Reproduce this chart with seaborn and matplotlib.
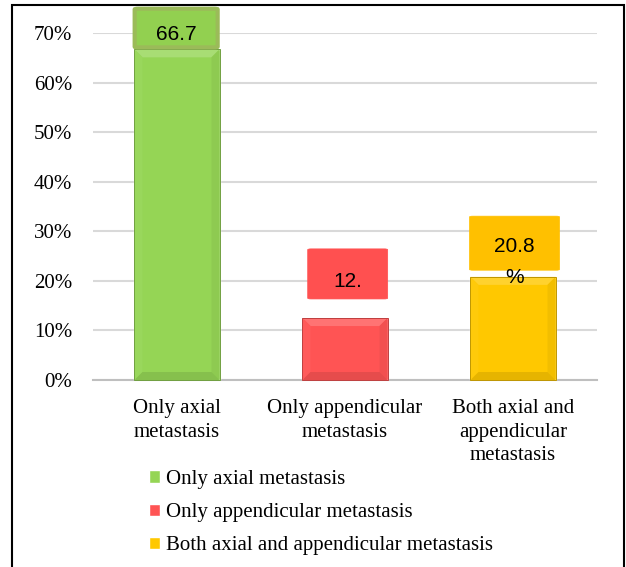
import matplotlib
matplotlib.use("Agg")
import matplotlib.pyplot as plt
import matplotlib.patches as mpatches
from matplotlib.transforms import IdentityTransform
import seaborn as sns
import pandas as pd

# Data
groups = ["Only axial metastasis", "Only appendicular metastasis",
          "Both axial and appendicular metastasis"]
tick_labels = ["Only axial\nmetastasis", "Only appendicular\nmetastasis",
               "Both axial and\nappendicular\nmetastasis"]
percent = [66.7, 12.5, 20.8]
value_labels = ["66.7", "12.", "20.8\n%"]
bar_colors = ["#95D555", "#FF5454", "#FFC800"]
box_colors = ["#92D050", "#FF5050", "#FFC000"]
box_edges = ["#9BBB59", "#FF5050", "#FFC000"]

df = pd.DataFrame({"group": groups, "percent": percent})

sns.set_theme(style="white")
plt.rcParams["font.family"] = ["Liberation Serif", "DejaVu Serif"]

W, H = 626, 567
fig = plt.figure(figsize=(W / 100, H / 100), dpi=100)
ax = fig.add_axes([93 / W, (H - 380) / H, 504 / W, 347 / H])

sns.barplot(data=df, x="group", y="percent", hue="group",
            palette=bar_colors, width=0.506, saturation=1, ax=ax,
            legend=True, zorder=3)

ax.set_xlim(-0.5, 2.5)
ax.set_ylim(0, 70)
ax.set_yticks(range(0, 71, 10))
ax.set_yticklabels([f"{t}%" for t in range(0, 71, 10)])
ax.set_xticks(range(3))
ax.set_xticklabels(tick_labels, linespacing=1.3)
ax.set_xlabel("")
ax.set_ylabel("")
ax.tick_params(axis="y", length=0, pad=15, labelsize=15)
ax.tick_params(axis="x", length=0, pad=14, labelsize=15)
for lab in ax.get_yticklabels() + ax.get_xticklabels():
    lab.set_color("black")

ax.grid(axis="y", color="#D9D9D9", linewidth=1.5, zorder=0)
ax.grid(axis="x", visible=False)
for s in ["left", "right", "top"]:
    ax.spines[s].set_visible(False)
ax.spines["bottom"].set_color("#BFBFBF")
ax.spines["bottom"].set_linewidth(1.5)
ax.set_axisbelow(True)

fig.canvas.draw()


def shade(color, f):
    r, g, b = matplotlib.colors.to_rgb(color)
    if f >= 0:
        return (r + (1 - r) * f, g + (1 - g) * f, b + (1 - b) * f)
    return (r * (1 + f), g * (1 + f), b * (1 + f))


# Soft bevel on each bar, built from the bar patch geometry
bev = 8
for patch, col in zip(ax.patches, bar_colors):
    bb = patch.get_window_extent()
    x0, y0, x1, y1 = bb.x0, bb.y0, bb.x1, bb.y1
    faces = [
        ([(x0, y1), (x1, y1), (x1 - bev, y1 - bev), (x0 + bev, y1 - bev)], shade(col, 0.18)),
        ([(x0, y0), (x0, y1), (x0 + bev, y1 - bev), (x0 + bev, y0 + bev)], shade(col, 0.04)),
        ([(x1, y0), (x1, y1), (x1 - bev, y1 - bev), (x1 - bev, y0 + bev)], shade(col, -0.05)),
        ([(x0, y0), (x1, y0), (x1 - bev, y0 + bev), (x0 + bev, y0 + bev)], shade(col, -0.10)),
    ]
    for pts, fc in faces:
        ax.add_patch(mpatches.Polygon(pts, closed=True, facecolor=fc,
                                      edgecolor="none", transform=IdentityTransform(),
                                      zorder=4, clip_on=False))
    ax.add_patch(mpatches.Rectangle((x0, y0), x1 - x0, y1 - y0, facecolor="none",
                                    edgecolor=shade(col, -0.25), linewidth=0.7,
                                    transform=IdentityTransform(), zorder=5,
                                    clip_on=False))

# Data label callouts placed above the bars
box_offsets = [(-0.005, 4.3), (0.016, 8.9), (0.009, 6.8)]
box_sizes = [(0.494, 7.8), (0.476, 10.1), (0.536, 10.9)]
text_offsets = [2.9, 7.4, 3.0]
for i, v in enumerate(percent):
    dx, dy = box_offsets[i]
    bw, bh = box_sizes[i]
    cx, cy = i + dx, v + dy
    ax.add_patch(mpatches.FancyBboxPatch((cx - bw / 2, cy - bh / 2), bw, bh,
                                         boxstyle="round,pad=0,rounding_size=0.02",
                                         facecolor=box_colors[i], edgecolor=box_edges[i],
                                         linewidth=3 if i == 0 else 0.5,
                                         mutation_aspect=8,
                                         zorder=6, clip_on=False))
    ax.text(cx, v + text_offsets[i], value_labels[i], ha="center", va="center",
            fontsize=15, family=["Liberation Sans", "DejaVu Sans"],
            color="black", linespacing=1.75, zorder=7, clip_on=False)

# Legend below the plot
handles, labels = ax.get_legend_handles_labels()
leg = ax.legend(handles, labels, loc="upper left",
                bbox_to_anchor=(149 / W, (H - 470) / H),
                bbox_transform=fig.transFigure, frameon=False, fontsize=15,
                handlelength=0.55, handleheight=0.55, handletextpad=0.25,
                labelspacing=0.68, borderpad=0, borderaxespad=0)
for t in leg.get_texts():
    t.set_color("black")

# Outer frame
fig.add_artist(mpatches.Rectangle((11.5 / W, -0.02), (624 - 11.5) / W, 1.02 - 4.5 / H,
                                  transform=fig.transFigure, facecolor="none",
                                  edgecolor="black", linewidth=1.5))

fig.savefig("out.png", dpi=100)
